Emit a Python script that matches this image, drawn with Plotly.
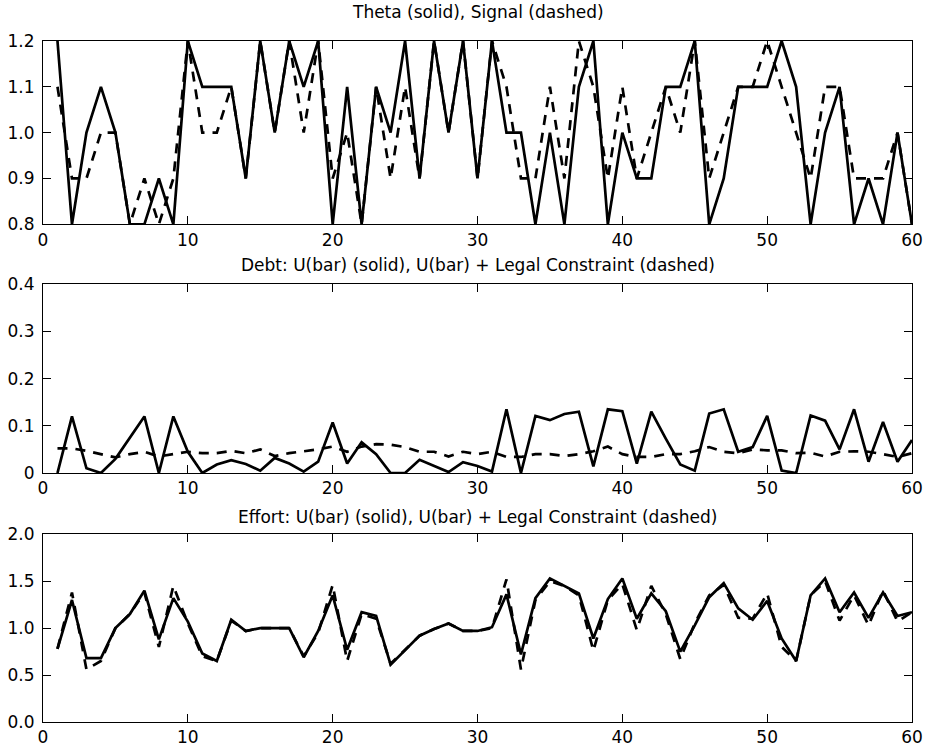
import plotly.graph_objects as go

periods = list(range(1, 61))

theta = [1.2, 0.8, 1.0, 1.1, 1.0, 0.8, 0.8, 0.9, 0.8, 1.2,
         1.1, 1.1, 1.1, 0.9, 1.2, 1.0, 1.2, 1.1, 1.2, 0.8,
         1.1, 0.8, 1.1, 1.0, 1.2, 0.9, 1.2, 1.0, 1.2, 0.9,
         1.2, 1.0, 1.0, 0.8, 1.0, 0.8, 1.1, 1.2, 0.8, 1.0,
         0.9, 0.9, 1.1, 1.1, 1.2, 0.8, 0.9, 1.1, 1.1, 1.1,
         1.2, 1.1, 0.8, 1.0, 1.1, 0.8, 0.9, 0.8, 1.0, 0.8]
signal = [1.1, 0.9, 0.9, 1.0, 1.0, 0.8, 0.9, 0.8, 0.9, 1.2,
          1.0, 1.0, 1.1, 0.9, 1.2, 1.0, 1.2, 1.0, 1.2, 0.9,
          1.0, 0.8, 1.1, 0.9, 1.1, 0.9, 1.2, 1.0, 1.2, 0.9,
          1.2, 1.1, 0.9, 0.9, 1.1, 0.9, 1.2, 1.1, 0.9, 1.1,
          0.9, 1.0, 1.1, 1.0, 1.2, 0.9, 1.0, 1.1, 1.1, 1.2,
          1.1, 1.0, 0.9, 1.1, 1.1, 0.9, 0.9, 0.9, 1.0, 0.8]

debt_ubar = [0.0, 0.12, 0.01, 0.0, 0.03, 0.075, 0.12, 0.0, 0.12, 0.045,
             0.0, 0.018, 0.027, 0.019, 0.005, 0.032, 0.02, 0.003, 0.024, 0.107,
             0.02, 0.065, 0.04, 0.0, 0.0, 0.028, 0.015, 0.002, 0.023, 0.015,
             0.003, 0.135, 0.0, 0.121, 0.112, 0.125, 0.13, 0.014, 0.135, 0.131,
             0.02, 0.13, 0.073, 0.018, 0.005, 0.126, 0.135, 0.045, 0.055, 0.121,
             0.005, 0.0, 0.122, 0.111, 0.05, 0.135, 0.024, 0.108, 0.024, 0.07]
debt_legal = [0.052, 0.052, 0.047, 0.04, 0.033, 0.04, 0.045, 0.035, 0.04, 0.045,
              0.042, 0.042, 0.047, 0.042, 0.05, 0.036, 0.042, 0.046, 0.05, 0.056,
              0.045, 0.056, 0.061, 0.06, 0.055, 0.045, 0.045, 0.035, 0.045, 0.04,
              0.045, 0.034, 0.034, 0.04, 0.04, 0.036, 0.04, 0.046, 0.056, 0.04,
              0.034, 0.034, 0.04, 0.04, 0.046, 0.055, 0.045, 0.042, 0.05, 0.048,
              0.048, 0.042, 0.043, 0.035, 0.045, 0.046, 0.045, 0.04, 0.034, 0.042]

effort_ubar = [0.78, 1.30, 0.68, 0.68, 1.0, 1.15, 1.40, 0.88, 1.32, 1.07,
               0.73, 0.65, 1.09, 0.97, 1.0, 1.0, 1.0, 0.69, 0.97, 1.35,
               0.77, 1.17, 1.13, 0.61, 0.77, 0.92, 0.99, 1.05, 0.97, 0.97,
               1.01, 1.36, 0.72, 1.32, 1.53, 1.45, 1.37, 0.89, 1.31, 1.53,
               1.10, 1.37, 1.18, 0.75, 1.03, 1.33, 1.48, 1.21, 1.09, 1.29,
               0.89, 0.65, 1.35, 1.53, 1.17, 1.38, 1.11, 1.38, 1.13, 1.17]
effort_legal = [0.78, 1.38, 0.56, 0.65, 1.0, 1.15, 1.38, 0.80, 1.45, 1.05,
                0.70, 0.65, 1.08, 0.97, 1.0, 1.0, 1.0, 0.70, 0.95, 1.46,
                0.65, 1.15, 1.10, 0.62, 0.77, 0.92, 0.99, 1.05, 0.97, 0.97,
                1.0, 1.52, 0.56, 1.30, 1.50, 1.45, 1.35, 0.76, 1.30, 1.47,
                0.98, 1.45, 1.15, 0.67, 1.05, 1.35, 1.46, 1.11, 1.10, 1.37,
                0.80, 0.65, 1.35, 1.50, 1.08, 1.35, 1.03, 1.40, 1.07, 1.17]

titles = ["Theta (solid), Signal (dashed)",
          "Debt: U(bar) (solid), U(bar) + Legal Constraint (dashed)",
          "Effort: U(bar) (solid), U(bar) + Legal Constraint (dashed)"]

y1_ticks = [0.8, 0.9, 1.0, 1.1, 1.2]
y1_text = ["0.8", "0.9", "1.0", "1.1", "1.2"]
y2_ticks = [0, 0.1, 0.2, 0.3, 0.4]
y2_text = ["0", "0.1", "0.2", "0.3", "0.4"]
y3_ticks = [0, 0.5, 1.0, 1.5, 2.0]
y3_text = ["0.0", "0.5", "1.0", "1.5", "2.0"]
x_ticks = [0, 10, 20, 30, 40, 50, 60]

FONT = "DejaVu Sans, Liberation Sans, Arial, sans-serif"
FS = 17
LW = 2.7
DASH = "10px,8px"

fig = go.Figure()
series = [(theta, signal, "x", "y"),
          (debt_ubar, debt_legal, "x2", "y2"),
          (effort_ubar, effort_legal, "x3", "y3")]
for solid, dashed, xa, ya in series:
    fig.add_trace(go.Scatter(x=periods, y=dashed, mode="lines", xaxis=xa, yaxis=ya,
                             line=dict(color="black", width=LW, dash=DASH),
                             showlegend=False, cliponaxis=True))
    fig.add_trace(go.Scatter(x=periods, y=solid, mode="lines", xaxis=xa, yaxis=ya,
                             line=dict(color="black", width=LW),
                             showlegend=False, cliponaxis=True))

L, R, TOP, BOT = 43.3, 912.0, 40.7, 721.7
W, H = 925, 748
PH = BOT - TOP

def frac(px):
    return (BOT - px) / PH

domains = [(frac(224), 1.0), (frac(472.7), frac(284)), (0.0, frac(534))]
yconf = [([0.8, 1.2], y1_ticks, y1_text), ([0, 0.4], y2_ticks, y2_text),
         ([0, 2.0], y3_ticks, y3_text)]

axis_common = dict(showline=True, linecolor="black", linewidth=1, mirror="allticks",
                   ticks="inside", ticklen=8, tickcolor="black", tickwidth=1,
                   showgrid=False, zeroline=False, automargin=False,
                   tickfont=dict(family=FONT, size=FS, color="black"))

layout = dict(width=W, height=H, paper_bgcolor="white", plot_bgcolor="white",
              margin=dict(l=L, r=W - R, t=TOP, b=H - BOT, autoexpand=False),
              font=dict(family=FONT, size=FS, color="black"), showlegend=False)
for i in range(3):
    sfx = "" if i == 0 else str(i + 1)
    rng, tv, tt = yconf[i]
    layout["xaxis" + sfx] = dict(axis_common, range=[0, 60], tickvals=x_ticks,
                                 anchor="y" + sfx, domain=[0, 1])
    layout["yaxis" + sfx] = dict(axis_common, range=rng, tickvals=tv, ticktext=tt,
                                 anchor="x" + sfx, domain=list(domains[i]),
                                 ticklabelstandoff=4)
fig.update_layout(**layout)

title_px = [12, 265, 517]
for t, py in zip(titles, title_px):
    fig.add_annotation(text=t, x=0.5, xref="paper", y=frac(py), yref="paper",
                       xanchor="center", yanchor="middle", showarrow=False,
                       font=dict(family=FONT, size=FS, color="black"))

fig.write_html("out.html",
               config={"displayModeBar": False},
               post_script="document.body.style.margin='0';document.body.style.padding='0';"
                           "document.body.style.overflow='hidden';")
